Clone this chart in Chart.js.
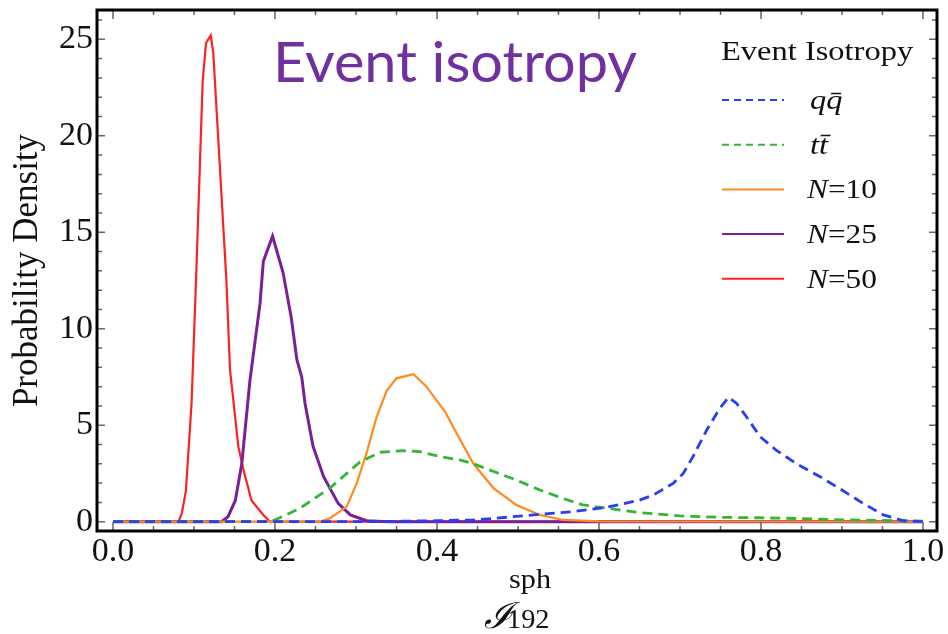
<!DOCTYPE html>
<html>
<head>
  <meta charset="UTF-8">
  <title>Event isotropy</title>
  <script src="https://cdn.jsdelivr.net/npm/chart.js@4.4.1/dist/chart.umd.min.js"></script>
  <style>
    body { margin: 0; background: #fff; }
  </style>
</head>
<body>
  <canvas id="chart" width="948" height="634"></canvas>

  <script>
    // values
    const seriesLabels = ["qq\u0304", "tt\u0304", "N=10", "N=25", "N=50"];
    const xTicks = [0, 0.2, 0.4, 0.6, 0.8, 1.0];
    const yTicks = [0, 5, 10, 15, 20, 25];

    const qqX = [0, 0.30, 0.35, 0.40, 0.445, 0.486, 0.527, 0.568, 0.61, 0.65, 0.667, 0.692, 0.704, 0.716, 0.733, 0.749, 0.76, 0.77, 0.782, 0.799, 0.819, 0.844, 0.873, 0.90, 0.926, 0.951, 0.976, 1.0];
    const qqY = [0, 0, 0.02, 0.05, 0.09, 0.23, 0.38, 0.52, 0.75, 1.12, 1.38, 2.0, 2.5, 3.37, 4.75, 5.87, 6.45, 6.13, 5.44, 4.4, 3.7, 3.0, 2.33, 1.64, 0.95, 0.35, 0.05, 0];

    const ttX = [0, 0.195, 0.206, 0.231, 0.268, 0.305, 0.33, 0.358, 0.379, 0.404, 0.428, 0.445, 0.47, 0.498, 0.527, 0.556, 0.58, 0.61, 0.65, 0.70, 0.75, 0.83, 0.91, 1.0];
    const ttY = [0, 0, 0.2, 0.7, 1.75, 3.1, 3.6, 3.68, 3.63, 3.37, 3.2, 3.0, 2.6, 2.16, 1.64, 1.2, 0.87, 0.7, 0.47, 0.3, 0.23, 0.18, 0.09, 0.03];

    const n10X = [0, 0.255, 0.268, 0.2885, 0.301, 0.313, 0.3255, 0.338, 0.350, 0.371, 0.387, 0.41, 0.424, 0.445, 0.47, 0.498, 0.527, 0.556, 0.60, 1.0];
    const n10Y = [0, 0, 0.18, 0.78, 2.0, 3.55, 5.44, 6.8, 7.43, 7.65, 7.0, 5.7, 4.6, 3.0, 1.73, 0.87, 0.35, 0.09, 0.02, 0];

    const n25X = [0, 0.134, 0.142, 0.151, 0.159, 0.169, 0.1815, 0.1856, 0.197, 0.21, 0.22, 0.227, 0.233, 0.237, 0.247, 0.26, 0.278, 0.293, 0.313, 0.34, 1.0];
    const n25Y = [0, 0, 0.26, 1.1, 3.0, 7.3, 11.3, 13.5, 14.8, 12.9, 10.6, 8.4, 7.5, 6.15, 3.9, 2.33, 0.95, 0.35, 0.05, 0, 0];

    const n50X = [0, 0.081, 0.085, 0.090, 0.097, 0.1025, 0.1107, 0.1148, 0.1206, 0.1238, 0.140, 0.1444, 0.1547, 0.161, 0.171, 0.1856, 0.194, 1.0];
    const n50Y = [0, 0, 0.45, 1.6, 6.15, 12.5, 22.8, 24.8, 25.2, 24.3, 12.5, 7.9, 3.9, 2.7, 1.1, 0.35, 0, 0];

    function pts(xs, ys) {
      return xs.map((x, i) => ({ x: x, y: ys[i] }));
    }

    const serif = "'Liberation Serif', 'Times New Roman', serif";

    // text a bit wider than the font gives, like the stretched reference
    function wideText(ctx, text, x, y, sx) {
      ctx.save();
      ctx.translate(x, y);
      ctx.scale(sx, 1);
      ctx.fillText(text, 0, 0);
      ctx.restore();
      return ctx.measureText(text).width * sx;
    }

    // frame, inward ticks, title, legend and the x-axis label
    const deco = {
      id: "deco",
      afterDatasetsDraw(chart) {
        const { ctx, chartArea: a, scales } = chart;
        const x = scales.x, y = scales.y;
        ctx.save();
        ctx.strokeStyle = "#666";
        ctx.lineWidth = 1.5;
        ctx.beginPath();
        for (let i = 0; i <= 20; i++) {
          const px = x.getPixelForValue(i * 0.05);
          const len = i % 4 === 0 ? 9 : 5;
          ctx.moveTo(px, a.bottom); ctx.lineTo(px, a.bottom - len);
          ctx.moveTo(px, a.top); ctx.lineTo(px, a.top + len);
        }
        for (let i = 0; i <= 26; i++) {
          const py = y.getPixelForValue(i);
          const len = i % 5 === 0 ? 8 : 5;
          ctx.moveTo(a.left, py); ctx.lineTo(a.left + len, py);
          ctx.moveTo(a.right, py); ctx.lineTo(a.right - len, py);
        }
        ctx.stroke();

        ctx.strokeStyle = "#000";
        ctx.lineWidth = 3;
        ctx.strokeRect(a.left, a.top, a.right - a.left, a.bottom - a.top);

        // big title inside the plot
        ctx.fillStyle = "#7030a0";
        ctx.font = "56px Lato, 'Open Sans', sans-serif";
        ctx.textBaseline = "alphabetic";
        const title = "Event isotropy";
        const tw = ctx.measureText(title).width;
        wideText(ctx, title, 273, 82, 364 / tw);

        // legend
        const sx = 1.16;
        ctx.fillStyle = "#111";
        ctx.font = "28px " + serif;
        wideText(ctx, "Event Isotropy", 721, 60, sx);
        chart.data.datasets.forEach((ds, i) => {
          const ry = 100 + i * 44.7;
          ctx.save();
          ctx.strokeStyle = ds.borderColor;
          ctx.lineWidth = 2;
          ctx.setLineDash(ds.borderDash && ds.borderDash.length ? [7, 5] : []);
          ctx.beginPath();
          ctx.moveTo(722, ry); ctx.lineTo(784, ry);
          ctx.stroke();
          ctx.restore();
          ctx.fillStyle = "#111";
          const lab = ds.label;
          if (lab.startsWith("N")) {
            ctx.font = "italic 27px " + serif;
            const w = wideText(ctx, "N", 807, ry + 9, sx);
            ctx.font = "27px " + serif;
            wideText(ctx, lab.slice(1), 807 + w, ry + 9, sx);
          } else {
            ctx.font = "italic 28px " + serif;
            wideText(ctx, lab, 810, ry + 9, sx);
          }
        });

        // x-axis label: script I with sph / 192
        ctx.fillStyle = "#111";
        ctx.font = "italic 36px 'DejaVu Serif', serif";
        wideText(ctx, "\u2110", 484, 628, 1.05);
        ctx.font = "27px " + serif;
        wideText(ctx, "sph", 509, 588, 1.12);
        wideText(ctx, "192", 507, 628, 1.05);
        ctx.restore();
      }
    };

    const chart = new Chart(document.getElementById("chart"), {
      type: "line",
      data: {
        datasets: [
          { label: seriesLabels[0], data: pts(qqX, qqY), borderColor: "rgb(40,62,245)", borderWidth: 2.8, borderDash: [10, 6] },
          { label: seriesLabels[1], data: pts(ttX, ttY), borderColor: "rgb(52,182,52)", borderWidth: 2.8, borderDash: [10, 6] },
          { label: seriesLabels[2], data: pts(n10X, n10Y), borderColor: "rgb(255,138,30)", borderWidth: 2.2, borderDash: [] },
          { label: seriesLabels[3], data: pts(n25X, n25Y), borderColor: "rgb(122,32,150)", borderWidth: 3, borderDash: [] },
          { label: seriesLabels[4], data: pts(n50X, n50Y), borderColor: "rgb(255,32,32)", borderWidth: 2.2, borderDash: [] }
        ]
      },
      options: {
        responsive: false,
        animation: false,
        elements: { point: { radius: 0 }, line: { tension: 0 } },
        layout: { padding: { top: 10, right: 11, left: 0, bottom: 0 } },
        plugins: { legend: { display: false }, tooltip: { enabled: false } },
        scales: {
          x: {
            type: "linear",
            min: -0.01975,
            max: 1.01728,
            grid: { display: false, drawTicks: false },
            border: { display: false },
            afterFit: s => { s.height = 103; s.paddingLeft = 0; s.paddingRight = 0; },
            afterBuildTicks: s => { s.ticks = xTicks.map(v => ({ value: v })); },
            ticks: {
              padding: 1,
              color: "#111",
              font: { family: serif, size: 34 },
              autoSkip: false,
              maxRotation: 0,
              callback: v => v.toFixed(1)
            }
          },
          y: {
            min: -0.482,
            max: 26.52,
            grid: { display: false, drawTicks: false },
            border: { display: false },
            afterFit: s => { s.width = 97; s.paddingTop = 0; s.paddingBottom = 0; },
            afterBuildTicks: s => { s.ticks = yTicks.map(v => ({ value: v })); },
            ticks: {
              padding: 4,
              color: "#111",
              font: { family: serif, size: 34 },
              autoSkip: false
            },
            title: {
              display: true,
              text: "Probability Density",
              color: "#111",
              font: { family: serif, size: 35 },
              padding: { top: 7, bottom: 0 }
            }
          }
        }
      },
      plugins: [deco]
    });
  </script>
</body>
</html>
